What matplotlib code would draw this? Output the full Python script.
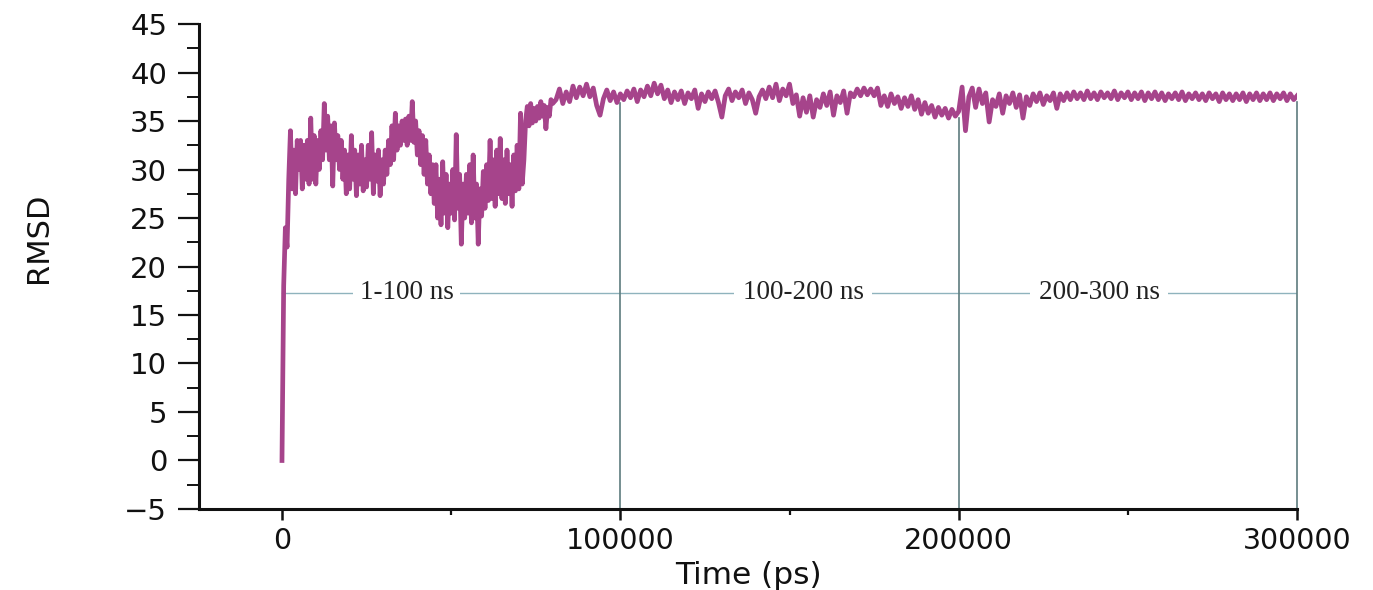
import numpy as np
import matplotlib
matplotlib.use("Agg")
import matplotlib.pyplot as plt
from matplotlib.ticker import MultipleLocator, FixedLocator

# ---------------- data ----------------
# first 80 ns sampled every 500 ps
rmsd_a = [
    0.0, 18.0, 24.0, 22.0, 29.0, 34.0, 28.0, 32.0, 27.5, 33.0,
    30.0, 33.0, 28.0, 32.5, 29.0, 33.0, 28.5, 35.3, 29.0, 33.5,
    28.5, 33.0, 30.0, 34.0, 31.0, 36.8, 32.0, 35.5, 31.0, 34.5,
    28.3, 34.8, 31.0, 33.5, 30.0, 33.0, 29.0, 32.0, 27.5, 31.5,
    28.0, 33.5, 29.0, 32.0, 27.3, 31.5, 28.5, 32.5, 27.8, 31.0,
    28.2, 32.5, 29.0, 33.8, 27.5, 31.5, 28.8, 32.0, 27.3, 31.0,
    28.5, 32.0, 29.5, 33.0, 30.5, 34.5, 31.0, 35.8, 32.0, 34.5,
    32.5, 35.0, 33.0, 35.2, 32.5, 35.5, 33.0, 37.0, 32.8, 35.0,
    31.5, 34.0, 30.5, 33.5, 29.5, 33.0, 28.5, 31.5, 27.5, 30.5,
    26.5, 30.5, 25.0, 29.0, 24.3, 30.8, 25.5, 29.5, 24.0, 28.5,
    25.5, 30.0, 24.8, 33.6, 26.0, 29.5, 22.3, 28.5, 25.0, 29.5,
    25.5, 30.5, 24.5, 31.5, 25.0, 28.5, 22.3, 28.0, 25.2, 29.8,
    26.0, 30.5, 26.8, 33.0, 27.0, 31.0, 26.2, 32.0, 27.5, 33.2,
    27.0, 31.0, 26.5, 32.0, 27.5, 30.5, 26.2, 31.5, 27.8, 32.5,
    28.0, 35.8, 28.5, 31.0, 35.0, 36.5, 34.5, 36.8, 34.8, 36.3,
    35.0, 36.5, 35.3, 37.0, 35.5, 36.6, 34.2, 36.4, 35.5, 37.2,
    36.8,
]
# 81 ns .. 300 ns sampled every 1000 ps
rmsd_b = [
    37.2, 38.3, 36.8, 38.0, 37.0, 38.6, 37.4, 38.5, 37.6, 38.8,
    37.5, 38.4, 36.6, 35.6, 37.3, 38.2, 37.1, 38.0, 36.9, 37.8,
    37.2, 38.1, 37.4, 38.3, 37.0, 38.2, 37.5, 38.6, 37.6, 38.9,
    37.8, 38.7, 37.3, 38.2, 36.9, 38.0, 37.2, 38.1, 36.8, 37.9,
    37.3, 38.2, 36.3, 37.8, 37.0, 38.0, 37.3, 38.1, 36.9, 35.4,
    37.6, 38.3, 37.1, 38.0, 37.4, 38.2, 36.8, 37.9, 37.2, 35.8,
    37.5, 38.2, 37.3, 38.5, 37.4, 38.8, 37.1, 38.3, 37.6, 38.8,
    36.8, 37.7, 35.5, 37.4, 35.9, 37.6, 35.4, 37.2, 36.4, 37.8,
    36.6, 38.0, 35.6, 37.6, 36.9, 38.1, 35.8, 37.9, 37.5, 38.3,
    37.6, 38.4, 37.7, 38.3, 37.6, 38.4, 36.6, 37.6, 36.5, 37.8,
    36.8, 37.5, 36.3, 37.4, 36.5, 37.6, 36.2, 37.2, 35.7, 36.9,
    35.8, 36.6, 35.4, 36.4, 35.6, 36.3, 35.3, 36.2, 35.5, 36.0,
    38.5, 34.0, 37.5, 38.4, 36.4, 38.3, 36.8, 37.9, 34.9, 37.2,
    36.5, 37.8, 35.8, 37.6, 36.8, 37.9, 36.4, 37.7, 35.3, 37.5,
    36.6, 37.8, 37.0, 37.9, 36.7, 37.6, 37.1, 37.9, 36.3, 37.8,
    37.1, 37.9, 37.2, 38.0, 37.3, 37.9, 37.2, 38.1, 37.3, 37.9,
    37.2, 38.0, 37.4, 37.9, 37.3, 38.1, 37.2, 37.9, 37.4, 38.0,
    37.2, 37.9, 37.3, 38.0, 37.1, 37.9, 37.3, 38.0, 37.2, 37.9,
    37.1, 37.8, 37.3, 37.9, 37.2, 38.0, 37.1, 37.8, 37.3, 37.9,
    37.2, 37.8, 37.1, 37.9, 37.3, 37.8, 37.0, 37.9, 37.2, 37.8,
    37.1, 37.8, 37.2, 37.9, 37.0, 37.8, 37.2, 37.9, 37.1, 37.8,
    37.2, 37.9, 37.1, 37.8, 37.3, 37.9, 37.1, 37.8, 37.2, 37.6,
]
time_a = np.arange(0, 80001, 500)
time_b = np.arange(81000, 300001, 1000)

# segment markers
marker_x = [100000, 200000, 300000]
marker_top = [36.9, 35.3, 37.0]
segment_y = 17.3
segment_start, segment_end = 0, 300000
segment_labels = ["1-100 ns", "100-200 ns", "200-300 ns"]
segment_label_x = [36800, 154000, 241500]

x_ticks = [0, 100000, 200000, 300000]
x_tick_labels = ["0", "100000", "200000", "300000"]
y_ticks = [-5, 0, 5, 10, 15, 20, 25, 30, 35, 40, 45]

# ---------------- figure ----------------
fig = plt.figure(figsize=(13.73, 5.90), dpi=100)
ax = fig.add_axes([0.145, 0.1373, 0.7997, 0.822])

time = np.concatenate([time_a, time_b])
rmsd = np.concatenate([rmsd_a, rmsd_b])

ax.plot([segment_start, segment_end], [segment_y, segment_y],
        color="#8fb3bd", lw=1.0, zorder=1)
for xv, top in zip(marker_x, marker_top):
    ax.plot([xv, xv], [-5, top], color="#5d7c7e", lw=1.2, zorder=1,
            clip_on=False)

ax.plot(time, rmsd, color="#a6448b", lw=3.4, zorder=2,
        solid_joinstyle="round")

pads = [5, 6, 6]
for lab, xv, pd in zip(segment_labels, segment_label_x, pads):
    ax.text(xv, segment_y, lab, ha="center", va="center",
            family="Liberation Serif", fontsize=19.5, color="#222222",
            zorder=3,
            bbox=dict(facecolor="white", edgecolor="none", pad=pd))

ax.set_xlim(-24500, 300000)
ax.set_ylim(-5, 45)

for s in ["top", "right"]:
    ax.spines[s].set_visible(False)
for s in ["left", "bottom"]:
    ax.spines[s].set_linewidth(2.2)
    ax.spines[s].set_color("#111111")

ax.xaxis.set_major_locator(FixedLocator(x_ticks))
ax.set_xticklabels(x_tick_labels)
ax.xaxis.set_minor_locator(FixedLocator([50000, 150000, 250000]))
ax.yaxis.set_major_locator(FixedLocator(y_ticks))
ax.yaxis.set_minor_locator(MultipleLocator(2.5))

ax.tick_params(axis="y", which="major", length=15, width=1.6, pad=8,
               labelsize=21, colors="#111111", direction="out")
ax.tick_params(axis="y", which="minor", length=9, width=1.4,
               colors="#111111", direction="out")
ax.tick_params(axis="x", which="major", length=8, width=1.8, pad=5,
               labelsize=20.5, colors="#111111", direction="out")
ax.tick_params(axis="x", which="minor", length=4, width=1.6,
               colors="#111111", direction="out")

ax.set_xlabel("Time (ps)", fontsize=22.5, labelpad=4, color="#111111")
ax.set_ylabel("RMSD", fontsize=22, color="#111111")
ax.yaxis.set_label_coords(-0.133, 0.559)

fig.savefig("out.png", dpi=100, facecolor="white")
